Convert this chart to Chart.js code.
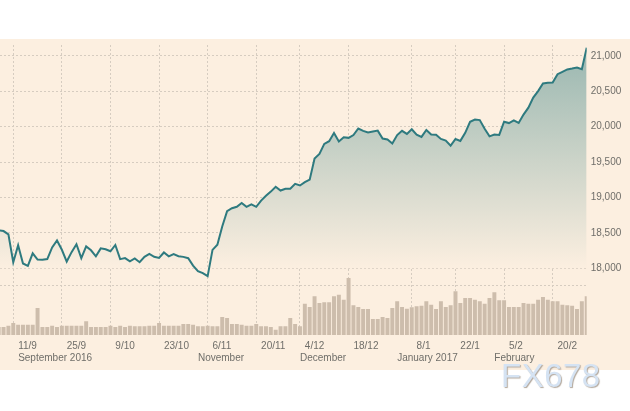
<!DOCTYPE html>
<html>
<head>
<meta charset="utf-8">
<script src="https://cdn.jsdelivr.net/npm/chart.js@4/dist/chart.umd.min.js"></script>
<style>
body{margin:0;background:#fff;width:630px;height:411px;overflow:hidden;position:relative;font-family:"Liberation Sans",Arial,sans-serif}
#panel{position:absolute;left:0;top:39px;width:630px;height:331px;background:#fcefe0}
#chart{position:absolute;left:0;top:0}
#mark{position:absolute;left:501px;top:359px;font-size:33px;line-height:33px;color:#d5e3f3;text-shadow:1px 1px 1px #b3a89c;letter-spacing:0.5px}
</style>
</head>
<body>
<div id="panel"><canvas id="chart" width="630" height="331"></canvas></div>
<div id="mark">FX678</div>
<script>
// trading days shown on the chart
const days = [
  '2016-09-06','2016-09-07','2016-09-08','2016-09-09','2016-09-12','2016-09-13','2016-09-14','2016-09-15','2016-09-16','2016-09-19','2016-09-20','2016-09-21','2016-09-22','2016-09-23','2016-09-26','2016-09-27','2016-09-28','2016-09-29','2016-09-30',
  '2016-10-03','2016-10-04','2016-10-05','2016-10-06','2016-10-07','2016-10-10','2016-10-11','2016-10-12','2016-10-13','2016-10-14','2016-10-17','2016-10-18','2016-10-19','2016-10-20','2016-10-21','2016-10-24','2016-10-25','2016-10-26','2016-10-27','2016-10-28','2016-10-31',
  '2016-11-01','2016-11-02','2016-11-03','2016-11-04','2016-11-07','2016-11-08','2016-11-09','2016-11-10','2016-11-11','2016-11-14','2016-11-15','2016-11-16','2016-11-17','2016-11-18','2016-11-21','2016-11-22','2016-11-23','2016-11-25','2016-11-28','2016-11-29','2016-11-30',
  '2016-12-01','2016-12-02','2016-12-05','2016-12-06','2016-12-07','2016-12-08','2016-12-09','2016-12-12','2016-12-13','2016-12-14','2016-12-15','2016-12-16','2016-12-19','2016-12-20','2016-12-21','2016-12-22','2016-12-23','2016-12-27','2016-12-28','2016-12-29','2016-12-30',
  '2017-01-03','2017-01-04','2017-01-05','2017-01-06','2017-01-09','2017-01-10','2017-01-11','2017-01-12','2017-01-13','2017-01-17','2017-01-18','2017-01-19','2017-01-20','2017-01-23','2017-01-24','2017-01-25','2017-01-26','2017-01-27','2017-01-30','2017-01-31',
  '2017-02-01','2017-02-02','2017-02-03','2017-02-06','2017-02-07','2017-02-08','2017-02-09','2017-02-10','2017-02-13','2017-02-14','2017-02-15','2017-02-16','2017-02-17','2017-02-21','2017-02-22','2017-02-23','2017-02-24','2017-02-27','2017-02-28',
  '2017-03-01'
];

// index close
const close = [
  18538,18526,18480,18085,18325,18067,18035,18212,18124,18120,18130,18294,18392,18261,18095,18228,18339,18143,18308,
  18254,18168,18281,18269,18240,18329,18129,18144,18099,18138,18086,18162,18203,18162,18146,18223,18169,18199,18170,18161,18142,
  18037,17960,17931,17888,18260,18333,18590,18808,18848,18869,18923,18868,18904,18868,18957,19024,19083,19152,19098,19122,19124,
  19192,19170,19216,19252,19550,19615,19757,19796,19911,19793,19852,19843,19883,19975,19942,19919,19934,19945,19834,19820,19763,
  19882,19942,19899,19964,19887,19856,19954,19891,19886,19827,19805,19732,19827,19800,19913,20069,20101,20094,19971,19864,
  19891,19885,20071,20052,20090,20054,20172,20269,20412,20504,20612,20620,20624,20743,20776,20810,20822,20837,20812,
  21116
];

// volume, millions
const volume = [
  78,78,91,118,101,101,101,101,270,78,78,91,78,91,91,91,91,91,135,
  78,78,78,78,91,78,91,78,91,85,85,85,91,91,118,91,91,91,91,108,108,
  101,85,85,91,85,85,179,169,108,108,101,91,91,108,85,85,78,51,85,85,169,
  108,85,314,281,389,321,328,328,389,406,355,575,298,281,260,260,159,159,179,169,270,
  338,281,264,277,287,294,338,304,260,338,281,298,440,321,372,372,355,338,314,372,
  429,348,348,281,281,281,321,314,314,355,382,355,338,338,304,298,294,260,338,
  389
];

const tickDates = ['2016-09-11','2016-09-25','2016-10-09','2016-10-23','2016-11-06','2016-11-20','2016-12-04','2016-12-18','2017-01-08','2017-01-22','2017-02-05','2017-02-20'];
const tickLabels = ['11/9','25/9','9/10','23/10','6/11','20/11','4/12','18/12','8/1','22/1','5/2','20/2'];
const monthDates = ['2016-09-12','2016-11-02','2016-12-02','2017-01-03','2017-02-01'];
const monthLabels = ['September 2016','November','December','January 2017','February'];
const priceTicks = [18000,18500,19000,19500,20000,20500,21000];
const volumeTicks = [500];

// first trading day on or after a date
const dayIndex = d => days.findIndex(x => x >= d);
const labelPos = tickDates.map(dayIndex);
const gridPos = labelPos.map(i => i - 1);
const monthPos = monthDates.map(dayIndex);

Chart.defaults.font.family = '"Liberation Sans", Arial, sans-serif';
Chart.defaults.font.size = 10;
Chart.defaults.color = '#6f6e69';

const gridColor = '#d6ccc0';
const xMin = 0.27, xMax = 121;

function fillGradient(ctx) {
  const chart = ctx.chart;
  const s = chart.scales.y;
  if (!chart.chartArea || !s) return 'rgba(0,0,0,0)';
  const g = chart.ctx.createLinearGradient(0, s.getPixelForValue(priceTicks[priceTicks.length - 1]), 0, s.getPixelForValue(priceTicks[0]));
  g.addColorStop(0, '#9db9b2');
  g.addColorStop(1, '#fcefe0');
  return g;
}

new Chart(document.getElementById('chart'), {
  data: {
    datasets: [
      {
        type: 'line',
        data: close.map((v, i) => ({x: i, y: v})),
        xAxisID: 'x', yAxisID: 'y',
        borderColor: '#2e7a7f',
        borderWidth: 2,
        pointRadius: 0,
        tension: 0,
        fill: {value: priceTicks[0]},
        backgroundColor: fillGradient,
        order: 0
      },
      {
        type: 'bar',
        data: volume.map((v, i) => ({x: i, y: v})),
        xAxisID: 'x', yAxisID: 'v',
        backgroundColor: '#cdbdac',
        barThickness: 3.3,
        order: 1
      }
    ]
  },
  options: {
    responsive: false,
    animation: false,
    devicePixelRatio: 1,
    layout: {padding: {top: 6, bottom: 6, left: 0, right: 0}},
    plugins: {legend: {display: false}, tooltip: {enabled: false}},
    scales: {
      x: {
        type: 'linear', min: xMin, max: xMax, bounds: 'data', offset: false, position: 'bottom', weight: 0,
        afterBuildTicks: s => { s.ticks = gridPos.map(v => ({value: v})); },
        ticks: {display: false},
        grid: {color: gridColor, drawTicks: false, offset: false},
        border: {display: false, dash: [2, 2]}
      },
      xd: {
        type: 'linear', min: xMin, max: xMax, bounds: 'data', offset: false, position: 'bottom', weight: 1,
        afterBuildTicks: s => { s.ticks = labelPos.map(v => ({value: v})); },
        ticks: {align: 'start', autoSkip: false, maxRotation: 0, padding: 5, callback: (v, i) => tickLabels[i]},
        grid: {display: false, drawTicks: false},
        border: {display: false},
        afterFit: s => { s.height = 17; s.paddingLeft = 0; s.paddingRight = 0; }
      },
      xm: {
        type: 'linear', min: xMin, max: xMax, bounds: 'data', offset: false, position: 'bottom', weight: 2,
        afterBuildTicks: s => { s.ticks = monthPos.map(v => ({value: v})); },
        ticks: {align: 'start', autoSkip: false, maxRotation: 0, padding: 0, callback: (v, i) => monthLabels[i]},
        grid: {display: false, drawTicks: false},
        border: {display: false},
        afterFit: s => { s.height = 12; s.paddingLeft = 0; s.paddingRight = 0; }
      },
      v: {
        position: 'right', min: 0, max: 2941, bounds: 'data', weight: 0,
        afterBuildTicks: s => { s.ticks = volumeTicks.map(v => ({value: v})); },
        ticks: {padding: 4, callback: v => v.toFixed(1) + 'M'},
        grid: {color: gridColor, drawTicks: false},
        border: {display: false, dash: [2, 2]},
        afterFit: s => { s.width = 0; s.paddingTop = 0; s.paddingBottom = 0; }
      },
      y: {
        position: 'right', min: 17057, max: 21155, bounds: 'data', weight: 1,
        afterBuildTicks: s => { s.ticks = priceTicks.map(v => ({value: v})); },
        ticks: {padding: 4, callback: v => v.toLocaleString('en-US')},
        grid: {color: gridColor, drawTicks: false},
        border: {display: false, dash: [2, 2]},
        afterFit: s => { s.width = 43.3; s.paddingTop = 0; s.paddingBottom = 0; }
      }
    }
  }
});
</script>
</body>
</html>
